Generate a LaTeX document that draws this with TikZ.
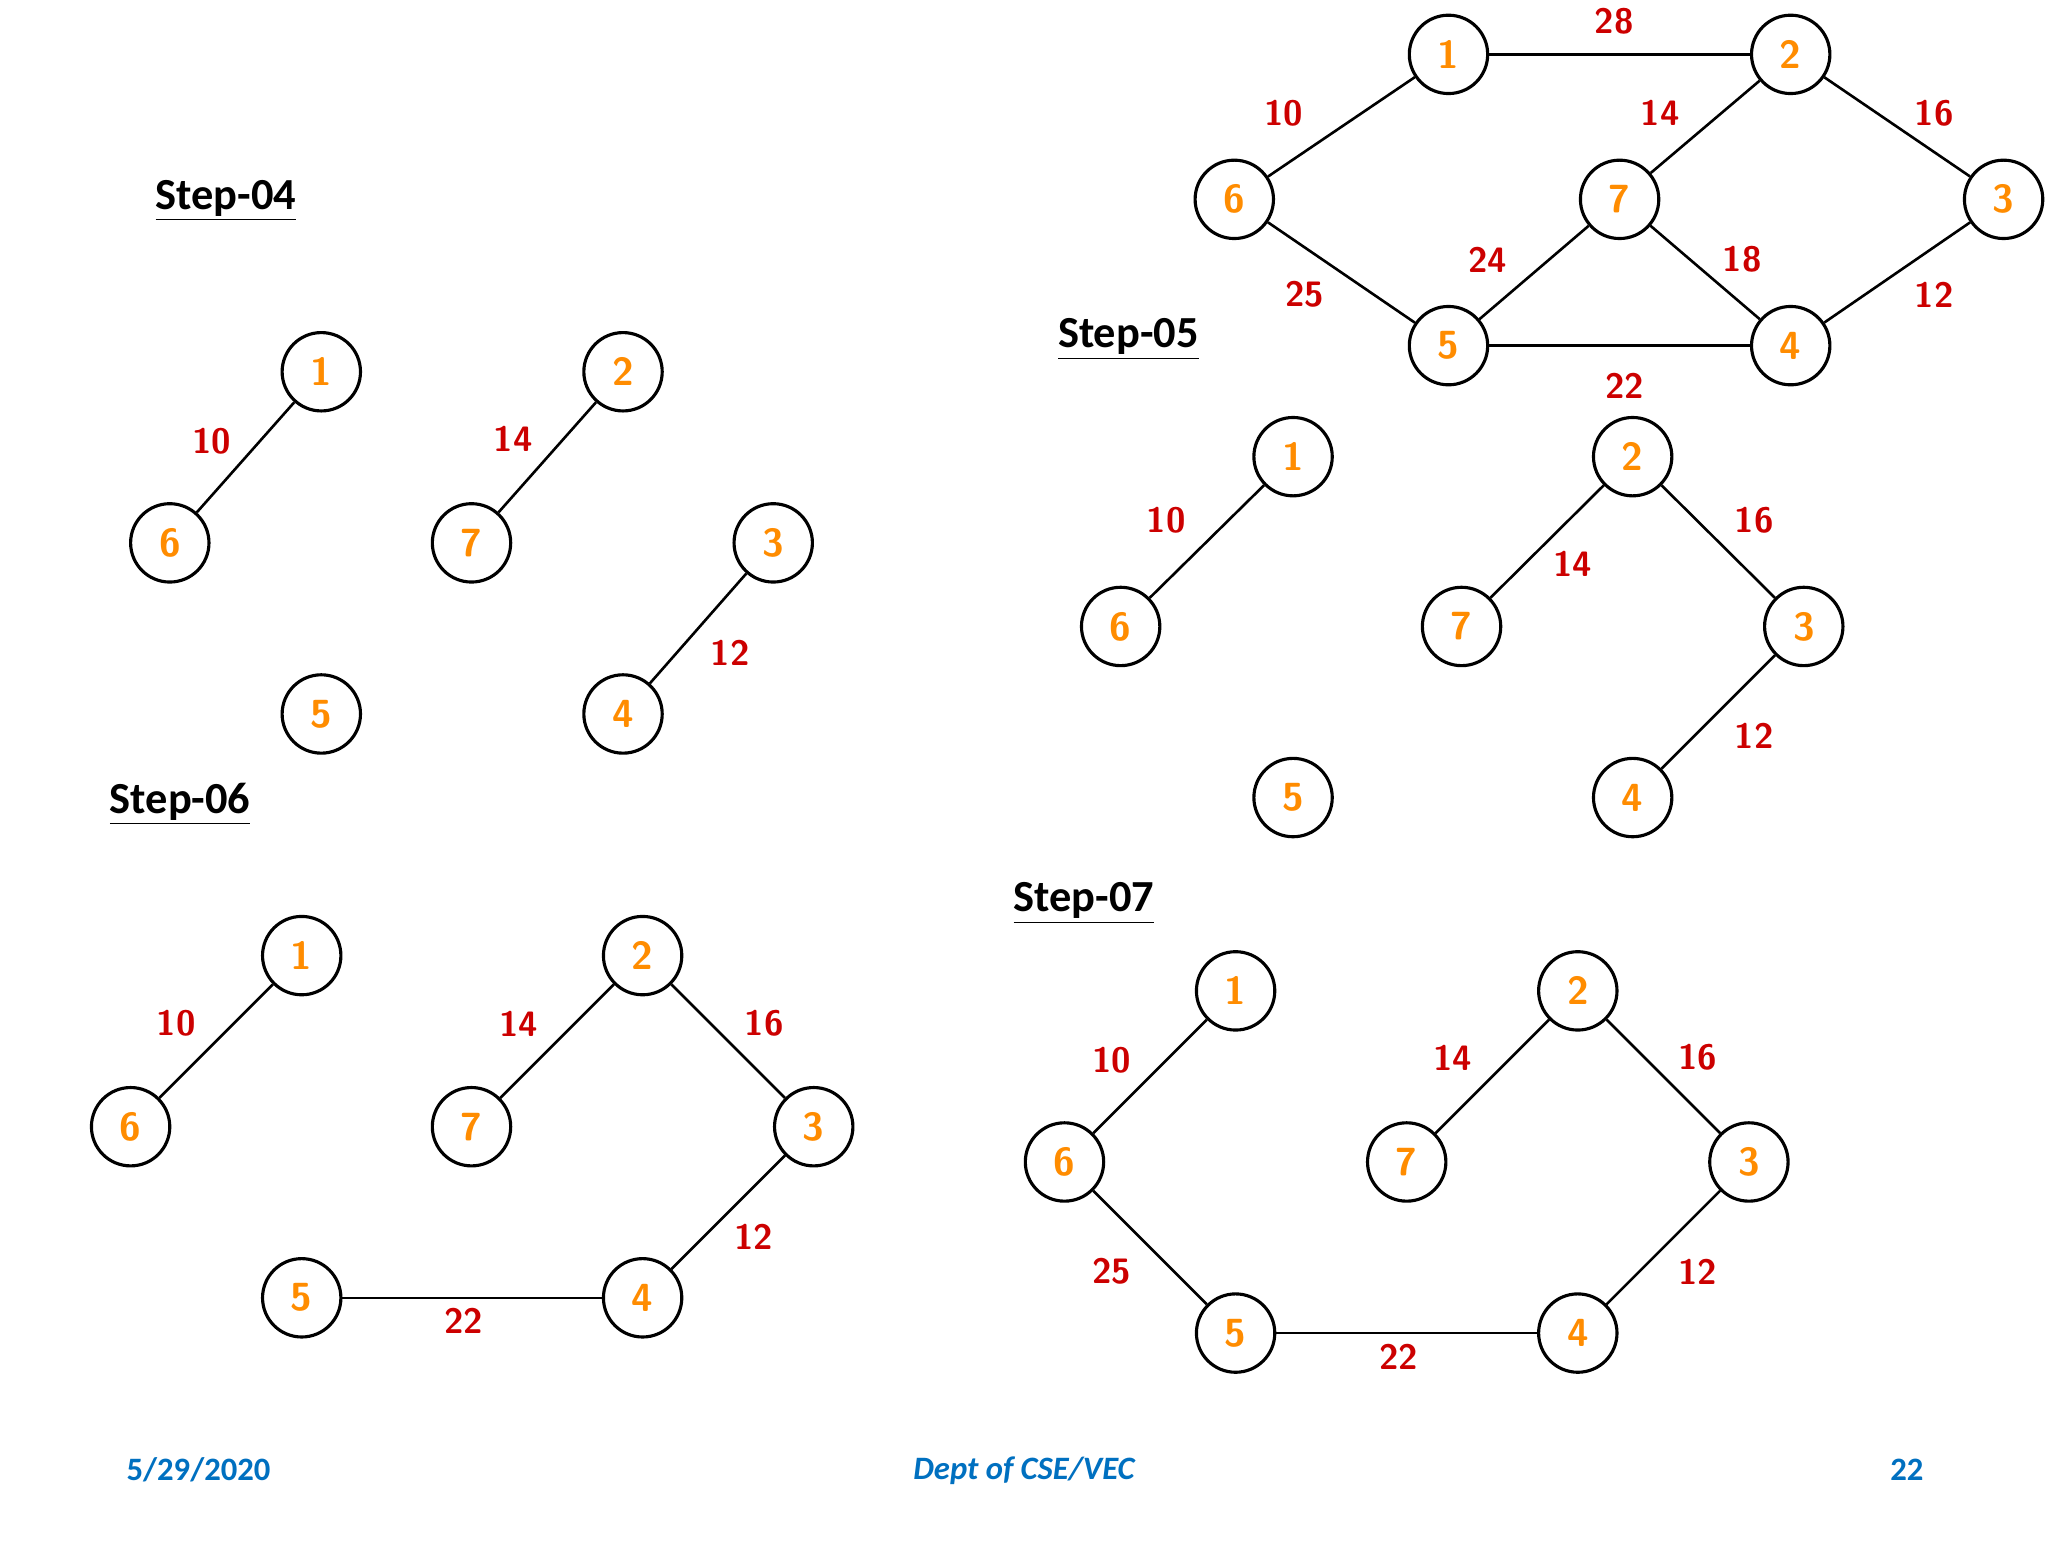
\documentclass[tikz,border=0pt]{standalone}
\usepackage{fontspec}
\setmainfont{Carlito}
\begin{document}
\begin{tikzpicture}[x=0.5pt,y=-0.5pt,
  v/.style={circle,draw,line width=1.2pt,minimum size=30pt,inner sep=0pt,text=orange!90!yellow,font=\fontsize{15}{15}\selectfont\bfseries\sffamily},
  e/.style={line width=1pt},
  w/.style={text=red!80!black,font=\fontsize{13.5}{14}\selectfont\bfseries\sffamily},
  st/.style={anchor=west,font=\fontsize{17}{18}\selectfont\bfseries},
  ft/.style={text={rgb,255:red,0;green,112;blue,192},font=\fontsize{12.5}{13}\selectfont\bfseries}]
\fill[white] (0,0) rectangle (1568,1176);
% top full graph
\node[v] (t1) at (1109,38) {1}; \node[v] (t2) at (1371,38) {2};
\node[v] (t6) at (945,149) {6}; \node[v] (t7) at (1240,149) {7}; \node[v] (t3) at (1534,149) {3};
\node[v] (t5) at (1109,261) {5}; \node[v] (t4) at (1371,261) {4};
\draw[e] (t1)--(t2); \draw[e] (t1)--(t6); \draw[e] (t2)--(t7); \draw[e] (t2)--(t3);
\draw[e] (t6)--(t5); \draw[e] (t7)--(t5); \draw[e] (t7)--(t4); \draw[e] (t3)--(t4); \draw[e] (t5)--(t4);
\node[w] at (1236,13) {28}; \node[w] at (983,83) {10}; \node[w] at (1271,83) {14}; \node[w] at (1481,83) {16};
\node[w] at (1139,195) {24}; \node[w] at (1334,195) {18}; \node[w] at (999,222) {25}; \node[w] at (1481,222) {12};
\node[w] at (1244,292) {22};
% step 04
\node[st] (s4) at (112,150) {\underline{Step-04}};
\node[v] (a1) at (246,281) {1}; \node[v] (a2) at (477,281) {2};
\node[v] (a6) at (130,412) {6}; \node[v] (a7) at (361,412) {7}; \node[v] (a3) at (592,412) {3};
\node[v] (a5) at (246,543) {5}; \node[v] (a4) at (477,543) {4};
\draw[e] (a1)--(a6); \draw[e] (a2)--(a7); \draw[e] (a3)--(a4);
\node[w] at (162,334) {10}; \node[w] at (393,332) {14}; \node[w] at (559,496) {12};
% step 05
\node[st] (s5) at (803,256) {\underline{Step-05}};
\node[v] (b1) at (990,346) {1}; \node[v] (b2) at (1250,346) {2};
\node[v] (b6) at (858,476) {6}; \node[v] (b7) at (1119,476) {7}; \node[v] (b3) at (1381,476) {3};
\node[v] (b5) at (990,607) {5}; \node[v] (b4) at (1250,607) {4};
\draw[e] (b1)--(b6); \draw[e] (b2)--(b7); \draw[e] (b2)--(b3); \draw[e] (b3)--(b4);
\node[w] at (893,395) {10}; \node[w] at (1204,428) {14}; \node[w] at (1343,395) {16}; \node[w] at (1343,560) {12};
% step 06
\node[st] (s6) at (77,612) {\underline{Step-06}};
\node[v] (c1) at (231,728) {1}; \node[v] (c2) at (492,728) {2};
\node[v] (c6) at (100,859) {6}; \node[v] (c7) at (361,859) {7}; \node[v] (c3) at (623,859) {3};
\node[v] (c5) at (231,990) {5}; \node[v] (c4) at (492,990) {4};
\draw[e] (c1)--(c6); \draw[e] (c2)--(c7); \draw[e] (c2)--(c3); \draw[e] (c3)--(c4); \draw[e] (c5)--(c4);
\node[w] at (135,780) {10}; \node[w] at (397,780) {14}; \node[w] at (585,780) {16}; \node[w] at (577,943) {12}; \node[w] at (355,1008) {22};
% step 07
\node[st] (s7) at (769,688) {\underline{Step-07}};
\node[v] (d1) at (946,755) {1}; \node[v] (d2) at (1208,755) {2};
\node[v] (d6) at (815,886) {6}; \node[v] (d7) at (1077,886) {7}; \node[v] (d3) at (1339,886) {3};
\node[v] (d5) at (946,1017) {5}; \node[v] (d4) at (1208,1017) {4};
\draw[e] (d1)--(d6); \draw[e] (d2)--(d7); \draw[e] (d2)--(d3); \draw[e] (d3)--(d4); \draw[e] (d6)--(d5); \draw[e] (d5)--(d4);
\node[w] at (851,808) {10}; \node[w] at (1112,806) {14}; \node[w] at (1300,806) {16}; \node[w] at (1300,970) {12};
\node[w] at (851,970) {25}; \node[w] at (1071,1035) {22};
% footer
\node[ft] (f1) at (152,1122) {5/29/2020};
\node[ft] (f2) at (784,1122) {\itshape Dept of CSE/VEC};
\node[ft] (f3) at (1460,1122) {22};
\end{tikzpicture}
\end{document}
